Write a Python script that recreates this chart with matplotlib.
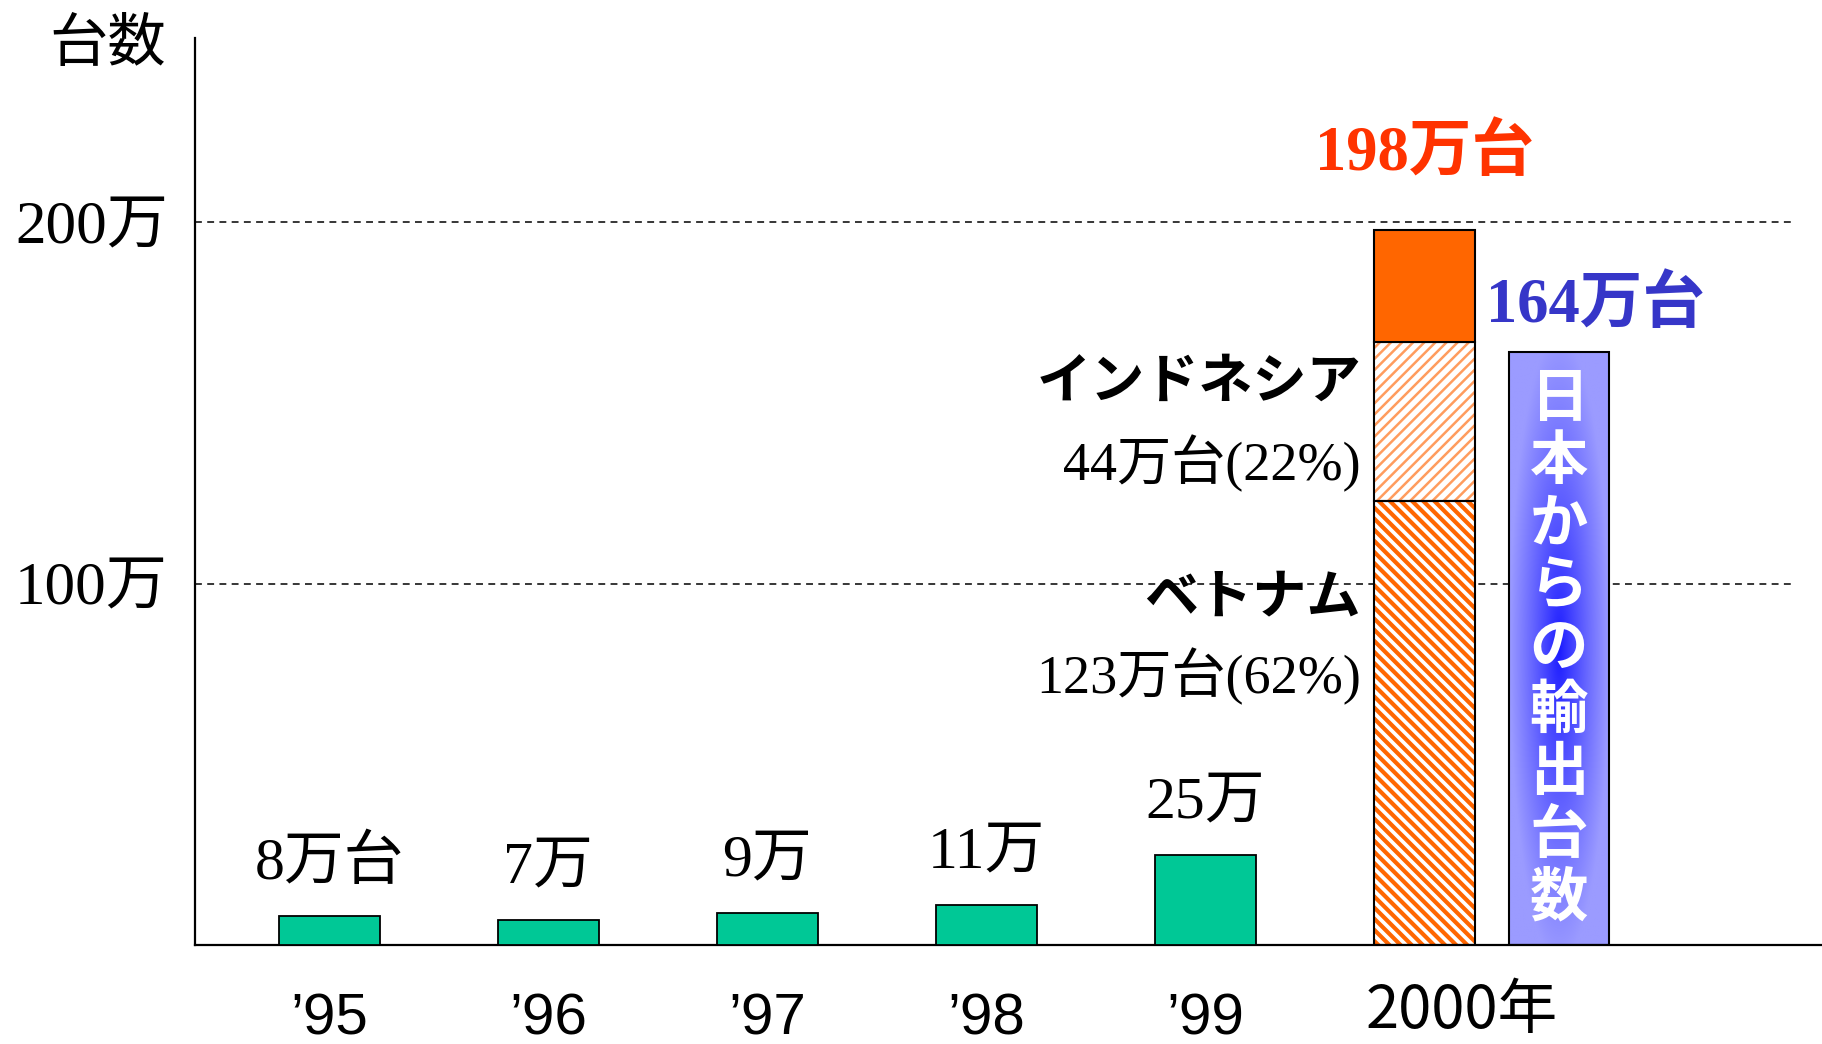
import numpy as np
import matplotlib
matplotlib.use('Agg')
import matplotlib.pyplot as plt
import matplotlib.transforms as mtransforms

# data (万台)
years = ['’95', '’96', '’97', '’98', '’99']
units = [8, 7, 9, 11, 25]
unit_labels = ['8万台', '7万', '9万', '11万', '25万']
label_2000 = '2000年'

vietnam = 123
indonesia = 44
total_2000 = 198
other_2000 = total_2000 - vietnam - indonesia
japan_export = 164

y_ticks = [100, 200]
y_ticklabels = ['100万', '200万']

SERIF = ['Liberation Serif', 'Noto Sans CJK JP']
SANS = ['Liberation Sans', 'Noto Sans CJK JP']
CJK = ['Noto Sans CJK JP', 'DejaVu Sans']

GREEN = '#00C896'
ORANGE = '#FF6600'
LIGHT_ORANGE = '#FF9C5E'

plt.rcParams['hatch.linewidth'] = 2.4

fig = plt.figure(figsize=(18.22, 10.44), dpi=100)
ax = fig.add_axes([0.107, 0.0948, 0.893, 0.8688])

width = 0.46
x = np.arange(len(years))
x2000 = len(years)
xjp = x2000 + 0.613

# small yearly bars
bars = ax.bar(x, units, width, color=GREEN, edgecolor='black', linewidth=1.3, zorder=3)
for b, txt in zip(bars, unit_labels):
    ax.annotate(txt, (b.get_x() + b.get_width() / 2, b.get_height()),
                xytext=(0, 37), textcoords='offset points',
                ha='center', va='center', fontsize=43, family=SERIF)

# 2000 stacked bar: Vietnam / Indonesia / other
def hatched(bottom, height, hatch, color, hlw):
    p = ax.bar(x2000, height, width, bottom=bottom, color='white', edgecolor=color,
               hatch=hatch, linewidth=0, zorder=2)[0]
    if hasattr(p, 'set_hatch_linewidth'):
        p.set_hatch_linewidth(hlw)
    ax.bar(x2000, height, width, bottom=bottom, fill=False, edgecolor='black',
           linewidth=1.5, zorder=3)

hatched(0, vietnam, '\\\\\\', ORANGE, 3.0)
hatched(vietnam, indonesia, '///', LIGHT_ORANGE, 1.8)
ax.bar(x2000, other_2000, width, bottom=vietnam + indonesia, color=ORANGE,
       edgecolor='black', linewidth=1.5, zorder=3)

# export bar from Japan with blue gradient
jp = ax.bar(xjp, japan_export, width, facecolor='none', edgecolor='black',
            linewidth=1.5, zorder=3)[0]
u = np.linspace(-1, 1, 200)
v = np.linspace(-1, 1, 400)
U, V = np.meshgrid(u, v)
d = np.clip(np.sqrt(U ** 2 + (V * 0.95) ** 2), 0, 1) ** 0.85
center = np.array([25, 25, 255]) / 255
edge = np.array([155, 155, 255]) / 255
grad = center + (edge - center) * d[..., None]
im = ax.imshow(grad, extent=[jp.get_x(), jp.get_x() + jp.get_width(), 0, jp.get_height()],
               aspect='auto', zorder=2, interpolation='bilinear')
im.set_clip_path(jp)
ax.text(xjp, japan_export / 2, '\n'.join('日本からの輸出台数'), ha='center', va='center',
        color='white', fontsize=42, fontweight='bold', family=CJK, linespacing=1.05, zorder=4)

# annotations for 2000
ax.text(x2000, 219, f'{total_2000}万台', ha='center', va='center', fontsize=45,
        fontweight='bold', color='#FF3300', family=SERIF)
ax.annotate(f'{japan_export}万台', (xjp, japan_export), xytext=(26, 33),
            textcoords='offset points', ha='center', va='center', fontsize=45,
            fontweight='bold', color='#3636C8', family=SERIF)
lx = x2000 - width / 2 - 0.06
ax.text(lx, 155.8, 'インドネシア', ha='right', va='center', fontsize=39,
        fontweight='bold', family=CJK)
ax.text(lx, 133.2, f'{indonesia}万台(22%)', ha='right', va='center', fontsize=39, family=SERIF)
ax.text(lx, 96.1, 'ベトナム', ha='right', va='center', fontsize=39,
        fontweight='bold', family=CJK)
ax.text(lx, 74.2, f'{vietnam}万台(62%)', ha='right', va='center', fontsize=39, family=SERIF)

# grid lines
ax.hlines(y_ticks, -0.613, 6.69, colors='black', linestyles=(0, (4.5, 3.5)),
          linewidth=1.1, zorder=1)

ax.set_xlim(-0.613, 6.814)
ax.set_ylim(0, 251)

ax.set_yticks(y_ticks, y_ticklabels)
for t in ax.get_yticklabels():
    t.set_family(SERIF)
    t.set_fontsize(44)
ax.set_xticks(x, years)
for t in ax.get_xticklabels():
    t.set_family(SANS)
    t.set_fontsize(42)
ax.tick_params(axis='x', length=0, pad=34)
ax.tick_params(axis='y', length=0, pad=19.5)

# 2000 label sits between the stacked bar and the export bar
trans = mtransforms.blended_transform_factory(ax.transData, ax.transAxes)
ax.text(x2000 + 0.17, -0.073, label_2000, transform=trans, ha='center', va='center',
        fontsize=43, family=CJK, clip_on=False)

for s in ['top', 'right']:
    ax.spines[s].set_visible(False)
ax.spines['left'].set_linewidth(1.6)
ax.spines['bottom'].set_linewidth(1.6)

fig.text(108 / 1822, 1 - 44 / 1044, '台数', ha='center', va='center', fontsize=42, family=CJK)

fig.savefig('out.png', dpi=100)
